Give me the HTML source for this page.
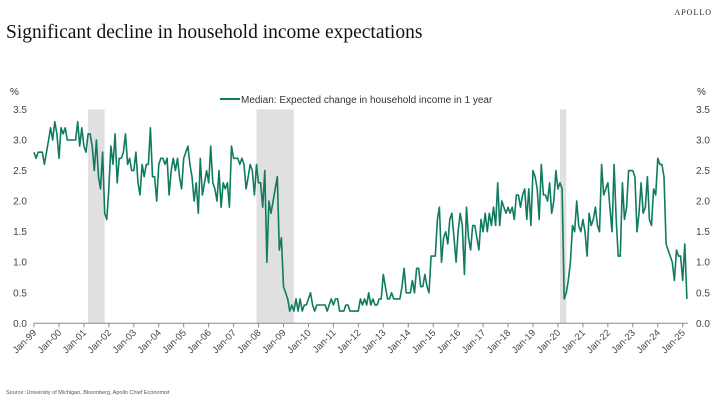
<!DOCTYPE html>
<html><head><meta charset="utf-8"><style>
body{margin:0;width:720px;height:400px;background:#fff;overflow:hidden;font-family:"Liberation Sans",sans-serif}
svg{display:block}
</style></head><body>
<svg width="720" height="400">
<text x="712" y="15" text-anchor="end" font-family="Liberation Serif" font-size="8" letter-spacing="1" fill="#222">APOLLO</text>
<text x="6" y="38" font-family="Liberation Serif" font-size="19.5" fill="#111">Significant decline in household income expectations</text>
<g id="rec"></g>
<g id="axes"></g>
<polyline id="line" fill="none" stroke="#0f7b5f" stroke-width="1.6" stroke-linejoin="round"/>
<line x1="220" y1="99" x2="240" y2="99" stroke="#0f7b5f" stroke-width="2"/>
<text x="241" y="103" font-size="10" fill="#333">Median: Expected change in household income in 1 year</text>
<text x="10" y="95" font-size="10" fill="#333">%</text>
<text x="697" y="95" font-size="10" fill="#333">%</text>
<text x="6" y="394" font-size="5.5" fill="#555">Source: University of Michigan, Bloomberg, Apollo Chief Economist</text>
</svg>
<script>
const values=[
2.8,2.7,2.8,2.8,2.8,2.6,2.8,3.0,3.2,3.0,3.3,3.1,
2.7,3.2,3.1,3.2,3.0,3.0,3.0,3.0,3.0,3.3,2.9,3.2,
2.9,2.8,3.1,3.1,2.9,2.5,3.0,2.4,2.2,2.8,1.8,1.7,
2.2,2.9,2.6,3.1,2.3,2.7,2.7,2.8,3.1,2.6,2.7,2.5,
2.5,2.8,2.3,2.1,2.6,2.4,2.6,2.6,3.2,2.4,2.4,2.0,
2.6,2.7,2.7,2.6,2.7,2.1,2.5,2.7,2.5,2.7,2.4,2.2,
2.7,2.8,2.9,2.6,2.4,2.0,2.3,1.8,2.7,2.1,2.3,2.5,
2.3,2.9,2.3,2.2,2.0,2.5,1.9,2.3,2.2,2.3,1.9,2.9,
2.7,2.7,2.7,2.6,2.7,2.6,2.2,2.4,2.6,2.5,2.1,2.6,
2.3,2.3,1.9,2.5,1.0,2.0,1.8,2.0,2.2,2.4,1.2,1.4,
0.6,0.5,0.4,0.2,0.3,0.2,0.4,0.2,0.4,0.2,0.3,0.3,
0.4,0.5,0.3,0.2,0.3,0.3,0.3,0.3,0.3,0.2,0.3,0.4,
0.3,0.4,0.4,0.2,0.2,0.2,0.3,0.3,0.2,0.2,0.2,0.2,
0.2,0.4,0.3,0.4,0.3,0.5,0.3,0.4,0.3,0.3,0.4,0.4,
0.8,0.6,0.4,0.4,0.5,0.4,0.4,0.4,0.4,0.6,0.9,0.5,
0.5,0.5,0.7,0.5,0.9,0.9,0.6,0.6,0.8,0.6,0.5,1.1,
1.1,1.1,1.7,1.9,1.0,1.4,1.5,1.3,1.7,1.8,1.4,1.0,
1.5,1.8,1.6,0.8,1.9,1.4,1.2,1.6,1.6,1.4,1.2,1.7,
1.5,1.8,1.5,1.8,1.6,1.9,1.6,2.3,1.6,2.0,1.9,1.8,
1.9,1.8,1.9,1.7,2.1,2.1,1.9,2.1,2.2,1.7,2.2,1.6,
2.5,2.4,2.2,1.7,2.6,2.1,2.1,2.0,2.3,1.8,2.0,2.5,
2.2,2.3,2.2,0.4,0.5,0.7,1.0,1.6,
1.5,2.0,1.6,1.5,1.7,1.5,1.1,1.8,1.6,1.7,1.9,1.6,
1.5,2.6,2.1,2.2,2.3,1.9,1.5,2.6,1.7,1.1,1.1,2.3,
1.7,1.9,2.5,2.5,2.5,2.4,1.5,1.8,2.3,1.8,1.9,2.4,
1.7,1.6,2.2,2.1,2.7,2.6,2.6,2.4,1.3,1.2,1.1,1.0,
0.7,1.2,1.1,1.1,0.7,1.3,0.4];
const yearLabels=["Jan-99","Jan-00","Jan-01","Jan-02","Jan-03","Jan-04","Jan-05","Jan-06","Jan-07","Jan-08","Jan-09","Jan-10","Jan-11","Jan-12","Jan-13","Jan-14","Jan-15","Jan-16","Jan-17","Jan-18","Jan-19","Jan-20","Jan-21","Jan-22","Jan-23","Jan-24","Jan-25"];
const yTicks=[0,0.5,1,1.5,2,2.5,3,3.5];
const recStart=[26,107,253];
const recEnd=[34,125,256];
const X0=34,PX=24.95/12,Y0=323.3,PY=61.1;
const x=m=>X0+m*PX, y=v=>Y0-v*PY;
const NS="http://www.w3.org/2000/svg";
const rec=document.getElementById('rec'),ax=document.getElementById('axes');
recStart.forEach((s,i)=>{const r=document.createElementNS(NS,'rect');
r.setAttribute('x',x(s));r.setAttribute('width',x(recEnd[i])-x(s));r.setAttribute('y',y(3.5));r.setAttribute('height',y(0)-y(3.5));r.setAttribute('fill','#e0e0e0');


rec.appendChild(r);});
yTicks.forEach(t=>{[[27,'end'],[696,'start']].forEach(([xx,a])=>{const tx=document.createElementNS(NS,'text');
tx.setAttribute('x',xx);tx.setAttribute('y',y(t)+3.5);tx.setAttribute('text-anchor',a);tx.setAttribute('font-size','10');tx.setAttribute('fill','#444');tx.textContent=t.toFixed(1);


ax.appendChild(tx);});});
const bl=document.createElementNS(NS,'line');bl.setAttribute('x1',X0);bl.setAttribute('x2',x(values.length-1)+1);bl.setAttribute('y1',Y0);bl.setAttribute('y2',Y0);bl.setAttribute('stroke','#888');


ax.appendChild(bl);
yearLabels.forEach((l,i)=>{const xx=x(i*12);
const tk=document.createElementNS(NS,'line');tk.setAttribute('x1',xx);tk.setAttribute('x2',xx);tk.setAttribute('y1',Y0);tk.setAttribute('y2',Y0+4);tk.setAttribute('stroke','#888');


ax.appendChild(tk);
const tx=document.createElementNS(NS,'text');tx.setAttribute('x',xx+3);tx.setAttribute('y',Y0+10);tx.setAttribute('text-anchor','end');tx.setAttribute('font-size','9.5');tx.setAttribute('fill','#444');
tx.setAttribute('transform',`rotate(-45 ${xx+3} ${Y0+10})`);tx.textContent=l;


ax.appendChild(tx);});
document.getElementById('line').setAttribute('points',values.map((v,i)=>x(i).toFixed(1)+','+y(v).toFixed(1)).join(' '));
</script>
</body></html>
